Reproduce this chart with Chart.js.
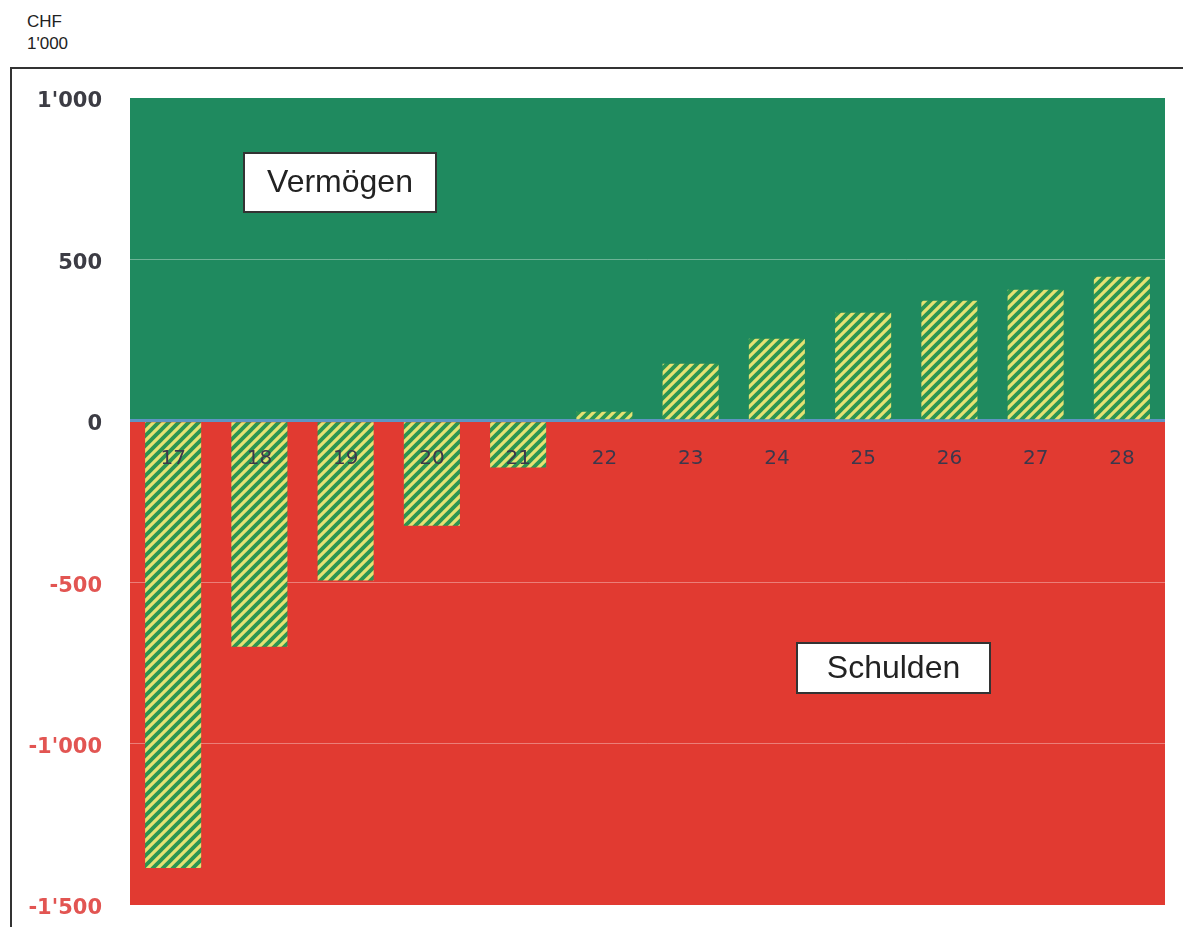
<!DOCTYPE html>
<html>
<head>
<meta charset="utf-8">
<script src="https://cdn.jsdelivr.net/npm/chart.js@4.4.0/dist/chart.umd.min.js"></script>
<style>
  body { margin: 0; background: #fff; width: 1183px; height: 927px; overflow: hidden; font-family: "Liberation Sans", Arial, sans-serif; }
  #unit { position: absolute; left: 27px; top: 11px; font-size: 17px; line-height: 22px; color: #222; }
  #frame { position: absolute; left: 10px; top: 67px; width: 1173px; height: 860px; border-left: 2px solid #333; border-top: 2px solid #333; }
  #frame canvas { display: block; }
</style>
</head>
<body>
<div id="unit">CHF<br>1'000</div>
<div id="frame"><canvas id="chartID" width="1171" height="858"></canvas></div>
<script>
  var categories = ["17", "18", "19", "20", "21", "22", "23", "24", "25", "26", "27", "28"];
  var values = [-1385, -700, -495, -325, -145, 28, 177, 254, 335, 372, 406, 446];
  var yTicks = [1000, 500, 0, -500, -1000, -1500];

  function fmt(v) {
    var s = Math.abs(v).toString();
    if (s.length > 3) s = s.slice(0, s.length - 3) + "'" + s.slice(-3);
    return (v < 0 ? "-" : "") + s;
  }

  // hatch pattern for the bars
  var tile = document.createElement('canvas');
  tile.width = 10; tile.height = 10;
  var tc = tile.getContext('2d');
  tc.fillStyle = '#e6e272';
  tc.fillRect(0, 0, 10, 10);
  tc.strokeStyle = '#2c9552';
  tc.lineWidth = 3.8;
  [[0, 10, 10, 0], [-5, 5, 5, -5], [5, 15, 15, 5]].forEach(function (l) {
    tc.beginPath(); tc.moveTo(l[0], l[1]); tc.lineTo(l[2], l[3]); tc.stroke();
  });
  var ctx = document.getElementById('chartID').getContext('2d');
  var hatch = ctx.createPattern(tile, 'repeat');

  var backgrounds = {
    id: 'backgrounds',
    beforeDraw: function (chart) {
      var c = chart.ctx, a = chart.chartArea, y = chart.scales.y;
      var top = y.getPixelForValue(1000), zero = y.getPixelForValue(0), bot = y.getPixelForValue(-1500);
      c.save();
      c.fillStyle = '#1f8a5f';
      c.fillRect(a.left, top, a.right - a.left, zero - top);
      c.fillStyle = '#e13a31';
      c.fillRect(a.left, zero, a.right - a.left, bot - zero);
      c.restore();
    },
    afterDatasetsDraw: function (chart) {
      var c = chart.ctx, x = chart.scales.x, y = chart.scales.y;
      var zero = y.getPixelForValue(0);
      c.save();
      c.fillStyle = '#3c384c';
      c.font = '20px "DejaVu Sans"';
      c.textAlign = 'center';
      c.textBaseline = 'middle';
      categories.forEach(function (cat, i) {
        c.fillText(cat, x.getPixelForValue(i), zero + 38);
      });
      // label boxes
      function box(text, bx, by, w, h) {
        c.fillStyle = '#fff';
        c.fillRect(bx, by, w, h);
        c.strokeStyle = '#333';
        c.lineWidth = 2;
        c.strokeRect(bx, by, w, h);
        c.fillStyle = '#222';
        c.font = '32px "Liberation Sans"';
        c.textAlign = 'center';
        c.fillText(text, bx + w / 2, by + h / 2 + 1);
      }
      box('Vermögen', 232, 84, 192, 59);
      box('Schulden', 785, 574, 193, 50);
      c.restore();
    }
  };

  new Chart(ctx, {
    type: 'bar',
    plugins: [backgrounds],
    data: {
      labels: categories,
      datasets: [{
        data: values,
        backgroundColor: hatch,
        barPercentage: 0.65,
        categoryPercentage: 1
      }]
    },
    options: {
      responsive: false,
      animation: false,
      layout: { padding: { top: 29, bottom: 22, right: 18, left: 0 } },
      plugins: { legend: { display: false }, tooltip: { enabled: false } },
      scales: {
        x: { display: false },
        y: {
          min: -1500,
          max: 1000,
          afterFit: function (s) { s.width = 118; s.paddingTop = 0; s.paddingBottom = 0; },
          afterBuildTicks: function (s) { s.ticks = yTicks.map(function (v) { return { value: v }; }); },
          border: { display: false },
          grid: {
            drawTicks: false,
            lineWidth: function (c) { return c.tick && c.tick.value === 0 ? 3 : 1; },
            color: function (c) {
              if (!c.tick) return 'transparent';
              var v = c.tick.value;
              if (v === 0) return '#5f94c4';
              if (v === 1000 || v === -1500) return 'transparent';
              return 'rgba(255,255,255,0.35)';
            }
          },
          ticks: {
            padding: 28,
            labelOffset: 4,
            font: { family: '"DejaVu Sans"', size: 21, weight: 'bold' },
            color: function (c) { return c.tick && c.tick.value < 0 ? '#e25552' : '#3c3c44'; },
            callback: function (v) { return fmt(v); }
          }
        }
      }
    }
  });
</script>
</body>
</html>
